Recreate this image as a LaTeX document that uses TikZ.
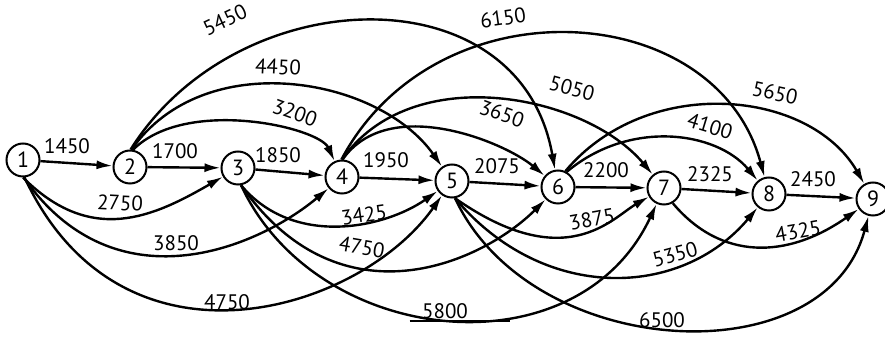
\documentclass[tikz,border=0pt]{standalone}
\usepackage{fontspec}
\setmainfont{PT Sans}
\usetikzlibrary{arrows.meta}
\tikzset{
  evnode/.style={draw,circle,line width=1pt,minimum size=16.5pt,inner sep=0pt,
    font=\fontsize{11}{11}\selectfont},
  actflow/.style={-{Latex[length=8pt,width=4.5pt]},line width=1.2pt},
  dur/.style={font=\fontsize{10.5}{10.5}\selectfont,inner sep=1pt},
}

\begin{document}
\begin{tikzpicture}[x=0.5pt,y=0.5pt]
\useasboundingbox (0,0) rectangle (885,337);
% Events of the chain
\node[evnode] (e1) at (23,177) {1};
\node[evnode] (e2) at (130,170) {2};
\node[evnode] (e3) at (238,169) {3};
\node[evnode] (e4) at (342,160) {4};
\node[evnode] (e5) at (452,156) {5};
\node[evnode] (e6) at (558,150) {6};
\node[evnode] (e7) at (664,149) {7};
\node[evnode] (e8) at (769,143) {8};
\node[evnode] (e9) at (873,138) {9};
% Straight activities
\draw[actflow] (e1) -- (e2);
\draw[actflow] (e2) -- (e3);
\draw[actflow] (e3) -- (e4);
\draw[actflow] (e4) -- (e5);
\draw[actflow] (e5) -- (e6);
\draw[actflow] (e6) -- (e7);
\draw[actflow] (e7) -- (e8);
\draw[actflow] (e8) -- (e9);
% Arcs over the chain
\draw[actflow] (e2.80) .. controls +(45:75) and +(115:55) .. (e4);
\draw[actflow] (e2.85) .. controls +(55:127) and +(125:127) .. (e5);
\draw[actflow] (e2.88) .. controls +(58:200) and +(100:220) .. (e6);
\draw[actflow] (e4.88) .. controls +(55:80) and +(140:70) .. (e6);
\draw[actflow] (e4.90) .. controls +(55:122) and +(130:122) .. (e7);
\draw[actflow] (e4.92) .. controls +(62:203) and +(105:203) .. (e8);
\draw[actflow] (e6.60) .. controls +(40:82) and +(130:82) .. (e8);
\draw[actflow] (e6.65) .. controls +(50:127) and +(120:127) .. (e9);
% Arcs under the chain
\draw[actflow] (e1.-90) .. controls +(-45:97) and +(-150:97) .. (e3);
\draw[actflow] (e1.-88) .. controls +(-55:160) and +(-140:110) .. (e4);
\draw[actflow] (e1.-85) .. controls +(-65:230) and +(-125:160) .. (e5);
\draw[actflow] (e3.-80) .. controls +(-50:82) and +(-145:82) .. (e5);
\draw[actflow] (e3.-80) .. controls +(-55:175) and +(-135:105) .. (e6);
\draw[actflow] (e3.-80) .. controls +(-65:180) and +(-115:205) .. (e7);
\draw[actflow] (e5.-80) .. controls +(-35:135) and +(-150:60) .. (e7);
\draw[actflow] (e5.-80) .. controls +(-50:137) and +(-130:137) .. (e8);
\draw[actflow] (e5.-80) .. controls +(-65:180) and +(-105:185) .. (e9);
\draw[actflow] (e7.-60) .. controls +(-50:75) and +(-145:105) .. (e9);
% Durations
\node[dur] (d12) at (67,191) {1450};
\node[dur] (d23) at (175,186) {1700};
\node[dur] (d34) at (278,182) {1850};
\node[dur] (d45) at (386,177) {1950};
\node[dur] (d56) at (497,171) {2075};
\node[dur] (d67) at (606,167) {2200};
\node[dur] (d78) at (710,163) {2325};
\node[dur] (d89) at (813,158) {2450};
\node[dur,rotate=25] (d26) at (225,317) {5450};
\node[dur,rotate=-3] (d25) at (278,270) {4450};
\node[dur,rotate=-20] (d24) at (295,224) {3200};
\node[dur,rotate=8] (d48) at (503,319) {6150};
\node[dur,rotate=-15] (d47) at (572,249) {5050};
\node[dur,rotate=-20] (d46) at (502,223) {3650};
\node[dur,rotate=-12] (d69) at (775,244) {5650};
\node[dur,rotate=-17] (d68) at (710,211) {4100};
\node[dur,rotate=-3] (d13) at (120,134) {2750};
\node[dur] (d14) at (176,94) {3850};
\node[dur] (d15) at (227,35) {4750};
\node[dur,rotate=8] (d35) at (364,122) {3425};
\node[dur,rotate=-10] (d36) at (362,90) {4750};
\node[dur] (d37) at (445,26) {5800};
\node[dur,rotate=10] (d57) at (592,118) {3875};
\node[dur,rotate=15] (d58) at (675,83) {5350};
\node[dur] (d59) at (662,17) {6500};
\node[dur,rotate=10] (d79) at (798,106) {4325};
\draw[line width=1.2pt] ([xshift=-5pt]d37.south west) -- ++(100,0);
\end{tikzpicture}
\end{document}
